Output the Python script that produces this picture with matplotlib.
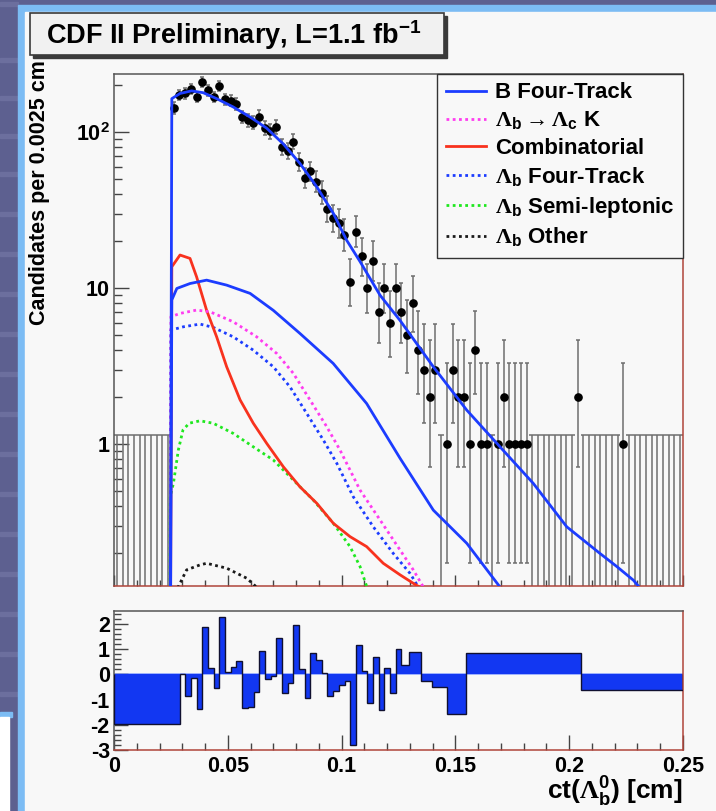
import math
import matplotlib
matplotlib.use("Agg")
import matplotlib.pyplot as plt
from matplotlib.patches import Rectangle
from matplotlib.ticker import FixedLocator, MultipleLocator, NullFormatter, FixedFormatter

plt.rcParams['font.family'] = ['Liberation Sans', 'DejaVu Sans']
plt.rcParams['font.weight'] = 'bold'
plt.rcParams['axes.unicode_minus'] = False
plt.rcParams['mathtext.fontset'] = 'custom'
plt.rcParams['mathtext.rm'] = 'Liberation Sans:bold'
plt.rcParams['mathtext.bf'] = 'Liberation Sans:bold'
plt.rcParams['mathtext.it'] = 'Liberation Sans:bold'
plt.rcParams['mathtext.sf'] = 'Liberation Serif'
plt.rcParams['mathtext.default'] = 'rm'

# ---------------- data ----------------
BIN_WIDTH = 0.0025
X_RANGE = (0.0, 0.25)

# candidates per 0.0025 cm bin, 0 -> 0.25 cm
COUNTS = [
    0, 0, 0, 0, 0, 0, 0, 0, 0, 0,
    142, 173, 177, 189, 168, 210, 185, 168, 197, 163,
    159, 152, 125, 119, 115, 126, 106, 101, 108, 80,
    76, 87, 64, 51, 56, 48, 41, 32, 28, 26,
    22, 11, 23, 16, 10, 15, 7, 10, 6, 10,
    7, 5, 8, 4, 3, 2, 3, 0, 1, 3,
    2, 2, 1, 4, 1, 1, 0, 1, 2, 1,
    1, 1, 1, 0, 0, 0, 0, 0, 0, 0,
    0, 2, 0, 0, 0, 0, 0, 0, 0, 1,
    0, 0, 0, 0, 0, 0, 0, 0, 0, 0,
]
ZERO_BIN_UPPER = 1.148

# fit projections: ct [cm] and candidates per bin
TOTAL_CT = [0.0246, 0.0254, 0.0290, 0.0341, 0.0392, 0.0451, 0.0524, 0.0598, 0.0671,
            0.0744, 0.0817, 0.0891, 0.0964, 0.1022, 0.1081, 0.1169, 0.1257, 0.1403,
            0.1550, 0.1696, 0.1842, 0.1989, 0.2135, 0.2209, 0.2282, 0.2310]
TOTAL_Y = [0.01, 164, 177, 184, 179, 164, 145, 125, 106,
           84, 63, 44.6, 30.1, 20.3, 14.8, 9.0, 6.2, 3.13,
           1.65, 0.96, 0.56, 0.295, 0.199, 0.164, 0.134, 0.12]

BFOUR_CT = [0.0246, 0.0254, 0.0276, 0.0334, 0.0407, 0.0495, 0.0598, 0.0700,
            0.0817, 0.0963, 0.1110, 0.1257, 0.1403, 0.1550, 0.1698]
BFOUR_Y = [0.01, 8.4, 9.95, 10.7, 11.25, 10.45, 9.25, 7.2,
           5.12, 3.29, 1.82, 0.81, 0.377, 0.231, 0.12]

LCK_CT = [0.0246, 0.0250, 0.0290, 0.0363, 0.0422, 0.0524, 0.0627, 0.0715, 0.0788,
          0.0861, 0.0935, 0.0993, 0.1081, 0.1169, 0.1257, 0.1315, 0.1361]
LCK_Y = [0.01, 6.55, 6.88, 7.23, 7.05, 6.08, 4.87, 3.81, 2.84,
         1.92, 1.29, 0.915, 0.507, 0.326, 0.209, 0.156, 0.12]

COMB_CT = [0.0246, 0.0254, 0.0290, 0.0334, 0.0363, 0.0407, 0.0451, 0.0495, 0.0554,
           0.0612, 0.0671, 0.0744, 0.0817, 0.0891, 0.0964, 0.1037, 0.1110, 0.1183,
           0.1257, 0.1315, 0.1347]
COMB_Y = [0.01, 13.7, 16.3, 15.5, 11.8, 7.2, 4.87, 3.13, 1.92,
          1.36, 1.01, 0.715, 0.532, 0.417, 0.310, 0.255, 0.22, 0.172,
          0.145, 0.128, 0.12]

LFOUR_CT = [0.0246, 0.0250, 0.0305, 0.0378, 0.0436, 0.0524, 0.0612, 0.0700, 0.0773,
            0.0847, 0.0920, 0.0979, 0.1051, 0.1139, 0.1227, 0.1301, 0.1339]
LFOUR_Y = [0.01, 5.38, 5.65, 5.88, 5.6, 4.87, 4.0, 3.13, 2.33,
           1.57, 1.06, 0.752, 0.46, 0.295, 0.199, 0.148, 0.12]

SEMI_CT = [0.0246, 0.0247, 0.0261, 0.0283, 0.0303, 0.0330, 0.0378, 0.0436, 0.0524,
           0.0612, 0.0700, 0.0788, 0.0876, 0.0964, 0.1037, 0.1081, 0.1112]
SEMI_Y = [0.01, 0.46, 0.56, 0.92, 1.23, 1.36, 1.41, 1.36, 1.17,
          0.96, 0.79, 0.588, 0.437, 0.31, 0.22, 0.164, 0.12]

OTHER_CT = [0.0268, 0.0290, 0.0319, 0.0378, 0.0407, 0.0495, 0.0583, 0.0629]
OTHER_Y = [0.11, 0.128, 0.156, 0.168, 0.172, 0.16, 0.138, 0.12]

# pull distribution (variable binning)
PULL_EDGES = [0.0, 0.0288, 0.0313, 0.0338, 0.0363, 0.0388, 0.0413, 0.0438, 0.0463,
              0.0488, 0.0513, 0.0538, 0.0563, 0.0588, 0.0613, 0.0638, 0.0663, 0.0688,
              0.0713, 0.0738, 0.0763, 0.0788, 0.0813, 0.0838, 0.0863, 0.0888, 0.0913,
              0.0938, 0.0963, 0.0988, 0.1013, 0.1038, 0.1063, 0.1088, 0.1113, 0.1138,
              0.1163, 0.1188, 0.1213, 0.1238, 0.1263, 0.1296, 0.1348, 0.1399, 0.1465,
              0.1548, 0.2052, 0.25]
PULL_VALUES = [-1.97, 0.03, -0.87, -0.16, -1.39, 1.89, 0.24, -0.55, 2.27,
               0.11, 0.29, 0.52, -1.33, -1.30, -0.71, 0.92, -0.17, -0.05,
               1.43, -0.75, -0.33, 1.95, 0.23, -0.95, 0.87, 0.56, 0.07,
               -0.87, -0.64, -0.41, -0.27, -2.80, 1.16, 0.15, -1.15, 0.68,
               -1.41, 0.24, -0.75, 1.01, 0.37, 0.88, -0.25, -0.51, -1.57,
               0.85, -0.60]

X_TICKS = [0, 0.05, 0.1, 0.15, 0.2, 0.25]
X_TICK_LABELS = ['0', '0.05', '0.1', '0.15', '0.2', '0.25']
Y_TICKS = [1, 10, 100]
Y_TICK_LABELS = ['1', '10', r'$10^{2}$']
PULL_TICKS = [-3, -2, -1, 0, 1, 2]

# ---------------- styles ----------------
BLUE = '#1c3cff'
MAGENTA = '#ff3cf0'
RED = '#f8321e'
GREEN = '#1fe81f'
DARK = '#1a1a1a'
ERR_GREY = '#6e6e6e'
AXIS_GREY = '#555555'
AXIS_RED = '#b0443a'
CANVAS = '#f8f8f8'
DOT = (0, (1.0, 1.25))


def poisson_cdf(k, mu):
    if mu <= 0:
        return 1.0
    lm = math.log(mu)
    return sum(math.exp(-mu + j * lm - math.lgamma(j + 1)) for j in range(k + 1))


def bisect(func, target, lo, hi):
    # func decreasing in mu
    for _ in range(80):
        mid = 0.5 * (lo + hi)
        if func(mid) > target:
            lo = mid
        else:
            hi = mid
    return 0.5 * (lo + hi)


def garwood(n, tail=0.158655):
    up = bisect(lambda m: poisson_cdf(n, m), tail, n, n + 10 * math.sqrt(n + 1) + 10)
    low = 0.0 if n == 0 else bisect(lambda m: poisson_cdf(n - 1, m), 1 - tail, 0, n)
    return low, up


W, H = 716, 811
fig = plt.figure(figsize=(W / 100, H / 100), dpi=100)

# ---------------- page background ----------------
bg = fig.add_axes([0, 0, 1, 1], zorder=-5)
bg.set_xlim(0, W)
bg.set_ylim(H, 0)
bg.axis('off')
bg.add_patch(Rectangle((0, 0), W, H, color='#5d6090'))
for yb in [2, 58, 96, 134, 172, 212, 252, 292, 332, 372, 412, 452, 492, 532, 572, 612, 652, 692]:
    bg.add_patch(Rectangle((0, yb), 18, 4, color='#6c6f9e'))
bg.add_patch(Rectangle((18, 5), W - 18, H, color='#7cbcf4'))
bg.add_patch(Rectangle((25, 12), W - 25, H, color=CANVAS))
bg.add_patch(Rectangle((0, 712), 12, 5, color='#7cbcf4'))
bg.add_patch(Rectangle((0, 717), 9, H, color='white'))

# title pave
bg.add_patch(Rectangle((33, 16), 414, 42, color='#3a3a3a'))
bg.add_patch(Rectangle((30, 13), 414, 42, facecolor='#f1f1f1', edgecolor='#3a3a3a', lw=1.2))
fig.text(46 / W, 1 - 35 / H, r'CDF II Preliminary, L=1.1 fb$^{-1}$', fontsize=19.5,
         fontweight='bold', va='center', ha='left', color='black')

# ---------------- main panel ----------------
ax = fig.add_axes([114 / W, 1 - 586 / H, 569 / W, 512 / H])
ax.set_facecolor(CANVAS)
ax.set_yscale('log')
ax.set_xlim(*X_RANGE)
ax.set_ylim(0.123, 236)

centers = [X_RANGE[0] + (k + 0.5) * BIN_WIDTH for k in range(len(COUNTS))]
px, py, lo_err, hi_err = [], [], [], []
zx, zl, zr = [], [], []
for c, n in zip(centers, COUNTS):
    if n > 0:
        l, u = garwood(n)
        px.append(c)
        py.append(n)
        lo_err.append(n - l)
        hi_err.append(u - n)
    else:
        zx.append(c)
        zl.append(c - BIN_WIDTH / 2)
        zr.append(c + BIN_WIDTH / 2)

ax.vlines(zx, 1e-3, ZERO_BIN_UPPER, color=ERR_GREY, lw=1.1, zorder=2)
ax.hlines([ZERO_BIN_UPPER] * len(zx), zl, zr, color=ERR_GREY, lw=1.1, zorder=2)
ax.errorbar(px, py, yerr=[lo_err, hi_err], fmt='o', ms=5.2, color='black',
            ecolor=ERR_GREY, elinewidth=1.1, capsize=1.6, capthick=1.1, zorder=3)

LAB_BFOUR = 'B Four-Track'
LAB_LCK = r'$\mathsf{\Lambda}_{\mathrm{b}}\rightarrow\mathsf{\Lambda}_{\mathrm{c}}$ K'
LAB_COMB = 'Combinatorial'
LAB_LFOUR = r'$\mathsf{\Lambda}_{\mathrm{b}}$ Four-Track'
LAB_SEMI = r'$\mathsf{\Lambda}_{\mathrm{b}}$ Semi-leptonic'
LAB_OTHER = r'$\mathsf{\Lambda}_{\mathrm{b}}$ Other'

curve_specs = [
    (OTHER_CT, OTHER_Y, DARK, DOT, LAB_OTHER),
    (SEMI_CT, SEMI_Y, GREEN, DOT, LAB_SEMI),
    (LFOUR_CT, LFOUR_Y, BLUE, DOT, LAB_LFOUR),
    (COMB_CT, COMB_Y, RED, '-', LAB_COMB),
    (LCK_CT, LCK_Y, MAGENTA, DOT, LAB_LCK),
    (BFOUR_CT, BFOUR_Y, BLUE, '-', LAB_BFOUR),
]
handles = {}
for xs, ys, col, ls, lab in curve_specs:
    (ln,) = ax.plot(xs, ys, color=col, ls=ls, lw=2.0, zorder=4, label=lab)
    handles[lab] = ln
ax.plot(TOTAL_CT, TOTAL_Y, color=BLUE, lw=2.0, zorder=5)

order = [LAB_BFOUR, LAB_LCK, LAB_COMB, LAB_LFOUR, LAB_SEMI, LAB_OTHER]
leg = ax.legend([handles[k] for k in order], order, loc='upper right',
                bbox_to_anchor=(683 / W, 1 - 74 / H), bbox_transform=fig.transFigure,
                borderaxespad=0, fontsize=16, frameon=True, fancybox=False,
                edgecolor='#333333', facecolor=CANVAS, framealpha=1,
                handlelength=1.8, handletextpad=0.42, labelspacing=0.27,
                borderpad=0.38)
leg.get_frame().set_linewidth(1.0)
for t in leg.get_texts():
    t.set_fontweight('bold')

ax.xaxis.set_major_locator(FixedLocator(X_TICKS))
ax.xaxis.set_minor_locator(MultipleLocator(0.01))
ax.yaxis.set_major_locator(FixedLocator(Y_TICKS))
ax.yaxis.set_major_formatter(FixedFormatter(Y_TICK_LABELS))
ax.yaxis.set_minor_locator(FixedLocator([0.2, 0.3, 0.4, 0.5, 0.6, 0.7, 0.8, 0.9,
                                         2, 3, 4, 5, 6, 7, 8, 9,
                                         20, 30, 40, 50, 60, 70, 80, 90, 200]))
ax.yaxis.set_minor_formatter(NullFormatter())
ax.tick_params(axis='x', which='both', direction='in', labelbottom=False, color='#444444')
ax.tick_params(axis='x', which='major', length=8, width=1)
ax.tick_params(axis='x', which='minor', length=4.3, width=1)
ax.tick_params(axis='y', which='both', direction='in', color='#444444', pad=3)
ax.tick_params(axis='y', which='major', length=11, width=1, labelsize=15.5)
ax.tick_params(axis='y', which='minor', length=5.8, width=1)
for s in ('top', 'left'):
    ax.spines[s].set_color(AXIS_GREY)
for s in ('bottom', 'right'):
    ax.spines[s].set_color(AXIS_RED)
for s in ax.spines.values():
    s.set_linewidth(1.1)

fig.text(40 / W, 1 - 193 / H, 'Candidates per 0.0025 cm', rotation=90, fontsize=15.5,
         fontweight='bold', ha='center', va='center')

# ---------------- pull panel ----------------
axp = fig.add_axes([114 / W, 1 - 750 / H, 569 / W, 139 / H])
axp.set_facecolor(CANVAS)
axp.set_xlim(*X_RANGE)
axp.set_ylim(-3.0, 2.52)
axp.axhline(0, color='#8ea4ff', lw=1.2, zorder=1)
axp.stairs(PULL_VALUES, PULL_EDGES, baseline=0, fill=True, color='#1237f2', zorder=2)
axp.stairs(PULL_VALUES, PULL_EDGES, baseline=0, color='#101030', lw=1.0, zorder=3)

axp.xaxis.set_major_locator(FixedLocator(X_TICKS))
axp.xaxis.set_major_formatter(FixedFormatter(X_TICK_LABELS))
axp.xaxis.set_minor_locator(MultipleLocator(0.01))
axp.yaxis.set_major_locator(FixedLocator(PULL_TICKS))
axp.yaxis.set_minor_locator(MultipleLocator(0.2))
axp.tick_params(axis='both', which='both', direction='in', color='#444444')
axp.tick_params(axis='x', which='major', length=10.8, width=1, labelsize=15.5, pad=4)
axp.tick_params(axis='x', which='minor', length=5, width=1)
axp.tick_params(axis='y', which='major', length=10, width=1, labelsize=15.5, pad=3)
axp.tick_params(axis='y', which='minor', length=5, width=1)
for s in ('top', 'left'):
    axp.spines[s].set_color(AXIS_GREY)
for s in ('bottom', 'right'):
    axp.spines[s].set_color(AXIS_RED)
for s in axp.spines.values():
    s.set_linewidth(1.1)

fig.text(683 / W, 1 - 792 / H, r'ct($\mathsf{\Lambda}_{\mathrm{b}}^{0}$) [cm]', fontsize=19,
         fontweight='bold', ha='right', va='center')

fig.savefig('out.png', dpi=100, facecolor='#5d6090')
